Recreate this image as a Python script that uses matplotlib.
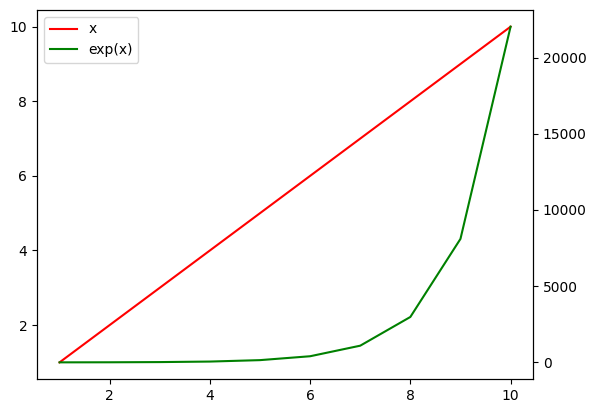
import matplotlib
matplotlib.use('Agg')
import matplotlib.pyplot as plt

x_vals = [1, 2, 3, 4, 5, 6, 7, 8, 9, 10]
lin_vals = [1, 2, 3, 4, 5, 6, 7, 8, 9, 10]
exp_vals = [2.72, 7.39, 20.1, 54.6, 148.4, 403.4, 1096.6, 2981.0, 8103.1, 22026.5]

fig, ax1 = plt.subplots(figsize=(5.97, 4.13), dpi=100)
fig.subplots_adjust(left=0.062, right=0.893, top=0.976, bottom=0.082)

l1, = ax1.plot(x_vals, lin_vals, color='red', label='x')
ax2 = ax1.twinx()
l2, = ax2.plot(x_vals, exp_vals, color='green', label='exp(x)')

ax1.legend(handles=[l1, l2], loc='upper left')

fig.savefig('out.png', dpi=100)
